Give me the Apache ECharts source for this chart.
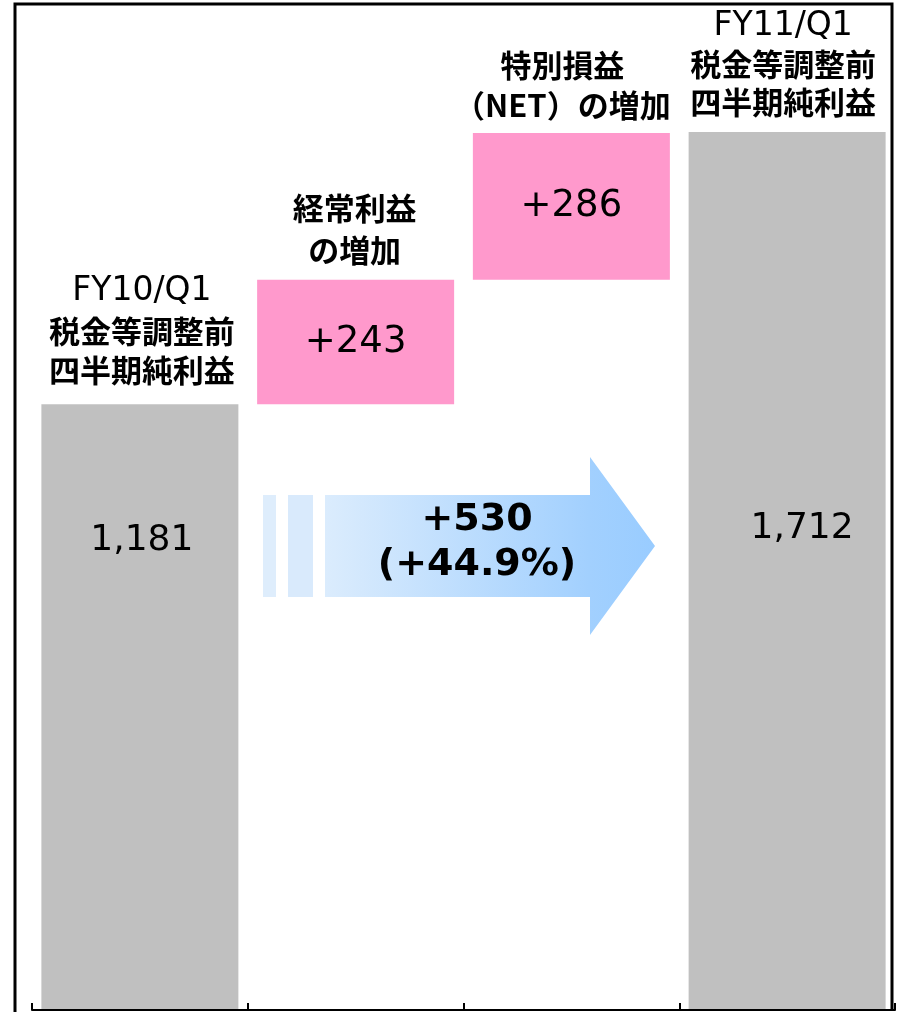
<!DOCTYPE html>
<html>
<head>
<meta charset="utf-8">
<title>税金等調整前四半期純利益</title>
<script src="https://cdn.jsdelivr.net/npm/echarts@6/dist/echarts.min.js"></script>
<style>
    html, body { margin: 0; padding: 0; background: #fff; }
    #main { width: 901px; height: 1012px; }
</style>
</head>
<body>
<div id="main"></div>
<script>
//类目
var categories = ['FY10/Q1', '経常利益の増加', '特別損益（NET）の増加', 'FY11/Q1'];
//柱子上方的说明文字(每行一项)
var headers = [
    ['FY10/Q1', '税金等調整前', '四半期純利益'],
    ['経常利益', 'の増加'],
    ['特別損益', '（NET）の増加'],
    ['FY11/Q1', '税金等調整前', '四半期純利益']
];
//灰色柱子(合计)
var totals = [1181, '-', '-', 1712];
//粉色柱子(增加部分)
var increases = ['-', 243, 286, '-'];
//箭头上的增减
var change = 530;
var changeRate = 44.9;

(function () {
    var myChart = echarts.init(document.getElementById('main'));

    //透明底座 = 前面累计
    var bases = [];
    var run = 0;
    for (var i = 0; i < categories.length; i++) {
        if (totals[i] !== '-') {
            bases.push('-');
            run = totals[i];
        } else {
            bases.push(run);
            run += increases[i];
        }
    }

    //顶部文字的零高度柱子
    var tops = categories.map(function () { return 0; });

    var jpFont = '"Noto Sans CJK JP", "Noto Sans CJK SC", sans-serif';
    var numFont = '"DejaVu Sans", sans-serif';

    //每个柱子上方文字的位置微调
    var headLabel = [
        { lineHeight: 39, distance: 15, offset: [2, 0] },
        { lineHeight: 42, distance: 9, offset: [-1, 0] },
        { lineHeight: 40, distance: 8, offset: [-9, 0] },
        { lineHeight: 38, distance: 11, offset: [-4, 0] }
    ];
    //灰色柱子里数字的位置
    var grayLabel = [
        { position: ['50%', 136], offset: [2, 0] },
        null,
        null,
        { position: ['50%', 397], offset: [15, 0] }
    ];

    //英文行用细一点的宽字体, 日文行用粗体
    function headText(lines) {
        return lines.map(function (s) {
            return /^[A-Z0-9\/]+$/.test(s) ? '{en|' + s + '}' : '{jp|' + s + '}';
        }).join('\n');
    }

    var option = {
        animation: false,
        grid: {
            left: 32,
            right: 6,
            top: 10,
            bottom: 2
        },
        xAxis: {
            type: 'category',
            data: categories,
            z: 10,
            axisLine: {
                show: true,
                lineStyle: { color: '#000', width: 2 }
            },
            axisTick: {
                show: true,
                inside: true,
                interval: 0,
                alignWithLabel: false,
                length: 7,
                lineStyle: { color: '#000', width: 2 }
            },
            axisLabel: { show: false }
        },
        yAxis: {
            type: 'value',
            min: 0,
            max: 1950,
            show: false,
            splitLine: { show: false }
        },
        series: [
            {
                name: 'base',
                type: 'bar',
                stack: 'w',
                barWidth: 197,
                silent: true,
                itemStyle: { color: 'transparent' },
                data: bases
            },
            {
                name: 'total',
                type: 'bar',
                stack: 'w',
                barWidth: 197,
                silent: true,
                itemStyle: { color: '#c0c0c0' },
                data: totals.map(function (v, i) {
                    if (v === '-') return v;
                    return {
                        value: v,
                        label: {
                            show: true,
                            position: grayLabel[i].position,
                            offset: grayLabel[i].offset,
                            align: 'center',
                            verticalAlign: 'middle',
                            formatter: v.toLocaleString('en-US'),
                            color: '#000',
                            fontFamily: numFont,
                            fontSize: 36
                        }
                    };
                })
            },
            {
                name: 'increase',
                type: 'bar',
                stack: 'w',
                barWidth: 197,
                silent: true,
                itemStyle: { color: '#ff99cc' },
                label: {
                    show: true,
                    position: 'inside',
                    color: '#000',
                    fontFamily: numFont,
                    fontSize: 37,
                    formatter: function (p) { return '+' + p.value; }
                },
                data: increases
            },
            {
                name: 'header',
                type: 'bar',
                stack: 'w',
                barWidth: 197,
                silent: true,
                itemStyle: { color: 'transparent' },
                data: tops.map(function (v, i) {
                    var lh = headLabel[i].lineHeight;
                    return {
                        value: v,
                        label: {
                            show: true,
                            position: 'top',
                            distance: headLabel[i].distance,
                            offset: headLabel[i].offset,
                            lineHeight: lh,
                            formatter: headText(headers[i]),
                            color: '#000',
                            rich: {
                                en: {
                                    fontFamily: numFont,
                                    fontSize: 33,
                                    lineHeight: lh,
                                    color: '#000'
                                },
                                jp: {
                                    fontFamily: jpFont,
                                    fontWeight: 'bold',
                                    fontSize: 31,
                                    lineHeight: lh,
                                    color: '#000'
                                }
                            }
                        }
                    };
                })
            }
        ],
        graphic: [
            //外框
            {
                type: 'polyline',
                silent: true,
                shape: { points: [[15, 1012], [15, 4], [892, 4], [892, 1010]] },
                style: { stroke: '#000', lineWidth: 3, fill: null }
            },
            //箭头左边的两条
            {
                type: 'rect',
                silent: true,
                shape: { x: 263, y: 495, width: 13, height: 102 },
                style: { fill: '#deedfc' }
            },
            {
                type: 'rect',
                silent: true,
                shape: { x: 288, y: 495, width: 25, height: 102 },
                style: { fill: '#d9eafc' }
            },
            //箭头
            {
                type: 'polygon',
                silent: true,
                shape: {
                    points: [[325, 495], [590, 495], [590, 457], [655, 546],
                             [590, 635], [590, 597], [325, 597]]
                },
                style: {
                    fill: new echarts.graphic.LinearGradient(0, 0, 1, 0, [
                        { offset: 0, color: '#dbecfd' },
                        { offset: 0.8, color: '#a2d0fe' },
                        { offset: 1, color: '#99ccff' }
                    ])
                }
            },
            {
                type: 'text',
                silent: true,
                x: 477,
                y: 543,
                style: {
                    text: '+' + change + '\n(+' + changeRate + '%)',
                    align: 'center',
                    verticalAlign: 'middle',
                    fill: '#000',
                    fontFamily: numFont,
                    fontWeight: 'bold',
                    fontSize: 38,
                    lineHeight: 45
                }
            }
        ]
    };

    myChart.setOption(option);

    window.addEventListener('resize', function () {
        myChart.resize();
    });
})();
</script>
</body>
</html>
